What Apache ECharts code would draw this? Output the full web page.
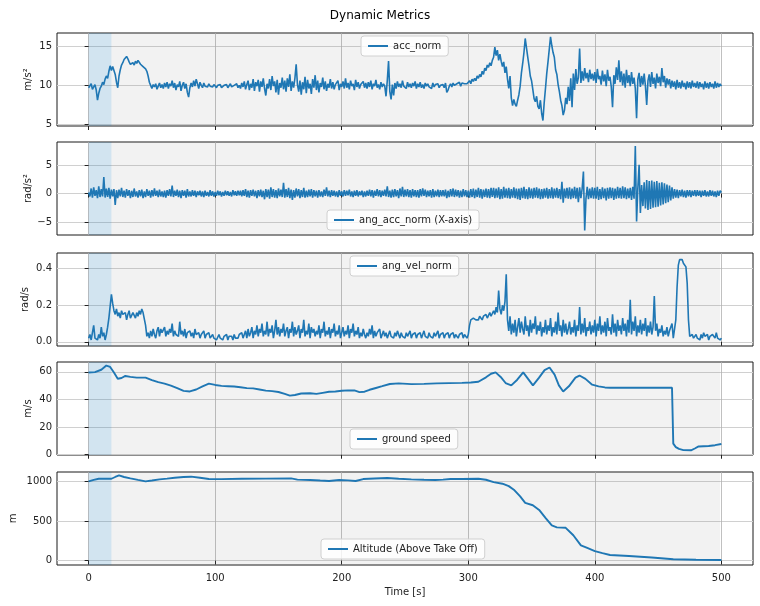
<!DOCTYPE html>
<html><head><meta charset="utf-8">
<script src="https://cdn.jsdelivr.net/npm/echarts@6/dist/echarts.min.js"></script>
<style>html,body{margin:0;padding:0;background:#fff}#c{width:760px;height:606px}</style>
</head><body><div id="c"></div>
<script>
// ---- data ----
const DT = 1; // sampling step (s) of the noisy series
const accNorm = [
9.7,9.9,10.2,9.5,9.8,10.1,9.4,8.1,9.0,9.6,9.9,10.4,10.1,10.8,11.2,10.9,11.8,12.5,11.9,12.4,
12.2,11.4,10.4,9.7,11.2,12.0,12.6,12.9,13.3,13.1,13.7,13.4,13.0,12.7,12.5,12.9,12.6,13.1,12.8,13.2,
13.0,12.7,12.9,12.4,12.6,12.1,11.8,11.2,10.4,10.0,9.6,10.1,9.8,10.2,9.5,9.9,10.3,9.7,10.1,9.6,
10.3,9.8,10.4,9.6,10.2,9.9,10.6,9.7,10.3,9.4,10.1,9.8,10.5,9.3,10.0,10.4,9.6,10.2,9.1,8.5,
9.7,10.3,9.8,10.6,9.9,10.8,10.2,9.6,10.4,10.0,9.7,10.3,9.9,10.1,9.8,10.2,9.9,10.0,9.8,10.1,
9.9,9.7,10.0,9.8,10.1,9.7,9.9,10.0,9.8,10.1,9.7,9.9,10.2,9.8,9.6,10.0,9.9,10.2,9.7,10.0,
9.6,10.3,9.8,10.5,9.5,10.1,10.6,9.4,10.2,9.7,10.8,9.3,10.4,9.9,10.7,9.2,10.5,9.8,10.9,9.6,
8.7,10.2,9.6,10.8,9.4,11.2,9.9,10.5,9.1,10.7,8.8,10.3,9.7,11.0,9.5,10.6,9.2,10.9,9.8,11.4,
9.3,10.5,9.7,10.9,12.7,10.1,9.2,10.6,8.8,10.4,9.5,11.1,9.0,10.7,9.6,10.2,8.9,10.8,9.7,11.3,
9.4,10.6,9.1,10.3,9.8,11.0,9.5,10.5,9.3,10.2,9.7,10.8,9.6,10.4,9.5,10.1,9.9,10.6,9.4,10.2,
9.8,10.5,9.6,10.9,9.7,10.3,9.5,10.6,9.9,10.2,9.4,10.7,9.8,10.4,9.6,10.1,9.9,10.5,9.7,10.3,
9.6,10.4,9.8,10.6,9.5,10.2,9.9,10.7,9.7,10.1,9.5,10.4,9.8,10.2,9.9,8.6,10.6,13.1,9.2,8.2,
10.1,8.7,10.3,9.6,10.5,9.8,10.2,9.7,10.6,9.9,10.1,9.6,10.4,9.8,10.2,9.7,10.3,9.9,10.5,9.6,
10.2,9.8,10.4,9.7,10.1,9.6,10.3,9.9,10.2,9.8,10.0,9.6,10.3,9.8,10.1,9.9,10.2,9.7,10.0,9.8,
10.1,9.7,10.3,9.1,9.4,9.9,10.2,9.8,10.3,10.0,9.9,10.2,10.1,10.4,9.9,10.3,10.1,10.2,10.4,10.2,
10.3,10.6,10.2,10.8,10.5,10.9,10.6,11.2,10.9,11.4,11.1,11.8,11.4,12.2,11.9,12.6,12.3,12.9,12.5,13.2,
13.6,14.9,13.8,14.5,13.2,14.0,13.1,12.4,13.0,11.6,12.4,10.8,9.6,11.2,8.4,7.4,8.2,7.6,7.3,8.1,
8.8,9.9,11.6,12.8,14.2,16.0,14.8,13.6,12.5,11.2,10.6,9.5,8.3,7.9,8.6,7.3,7.0,8.1,6.4,5.5,
7.8,9.6,11.5,13.0,14.6,16.2,15.1,14.2,13.6,12.0,11.4,10.1,9.2,8.1,7.4,6.2,6.8,8.4,7.6,9.8,
8.0,10.9,7.2,11.5,9.4,12.1,10.2,11.0,14.7,10.3,11.8,10.6,12.2,10.9,11.6,10.4,12.0,10.8,11.5,10.6,
11.7,10.3,12.1,10.8,11.2,10.1,11.9,10.5,11.4,9.9,12.0,10.6,11.1,9.8,7.2,11.3,10.2,12.3,10.7,13.2,
10.4,11.8,10.0,11.5,9.7,12.0,10.3,11.3,9.9,11.7,10.2,11.0,9.6,5.8,10.8,11.6,9.8,11.2,10.1,11.5,
9.9,7.5,10.6,11.4,9.8,11.7,10.2,11.0,9.6,11.5,10.3,11.1,9.9,12.2,10.4,11.2,9.7,10.9,10.1,10.8,
9.6,10.6,9.8,10.5,9.5,10.7,9.7,10.4,9.6,10.6,9.8,10.3,9.5,10.5,9.7,10.4,9.6,10.6,9.8,10.3,
9.7,10.5,9.6,10.4,9.8,10.2,9.5,10.5,9.7,10.3,9.6,10.4,9.8,10.2,9.6,10.5,9.7,10.3,9.8,10.2,
9.9];
const angAccNorm = [
0.2,-0.5,0.9,-0.7,1.1,-0.4,0.6,-0.8,1.3,-0.6,0.8,-0.5,2.9,-0.7,0.9,-0.6,1.0,-0.9,0.7,-0.5,
0.8,-2.0,0.6,-0.8,0.7,-0.5,1.0,-0.6,0.5,-0.7,0.8,-0.4,0.6,-0.8,0.5,-0.6,0.9,-0.5,0.4,-0.7,
0.6,-0.5,0.7,-0.8,0.4,-0.6,0.8,-0.4,0.5,-0.7,0.6,-0.5,0.9,-0.4,0.5,-0.6,0.7,-0.5,0.4,-0.6,
0.5,-0.7,0.6,-0.4,0.8,-0.5,1.4,-0.6,0.5,-0.4,0.7,-0.6,0.5,-0.8,0.6,-0.4,0.5,-0.7,0.8,-0.5,
0.4,-0.5,0.6,-0.4,0.5,-0.6,0.4,-0.3,0.5,-0.5,0.4,-0.6,0.5,-0.4,0.3,-0.5,0.6,-0.4,0.4,-0.5,
0.3,-0.4,0.5,-0.3,0.4,-0.5,0.3,-0.4,0.5,-0.3,0.4,-0.4,0.3,-0.5,0.6,-0.3,0.4,-0.4,0.5,-0.3,
0.5,-0.5,0.6,-0.4,0.8,-0.6,0.5,-0.7,0.6,-0.4,0.7,-0.5,0.5,-0.8,0.6,-0.5,0.7,-0.6,0.5,-1.0,
0.8,-0.6,0.7,-0.9,1.1,-0.6,0.8,-0.7,0.6,-0.8,0.9,-0.5,0.7,-0.6,1.9,-0.7,0.8,-0.6,1.0,-0.8,
0.7,-1.1,0.6,-0.7,0.9,-0.5,0.8,-0.8,0.6,-0.6,1.0,-0.7,0.5,-0.6,0.7,-0.5,0.8,-0.7,0.6,-0.5,
0.5,-0.7,0.6,-0.5,0.4,-0.6,0.7,-0.4,1.1,-0.5,0.5,-0.6,0.6,-0.4,0.5,-0.5,0.4,-0.6,0.6,-0.4,
0.4,-0.5,0.6,-0.4,0.5,-0.3,0.7,-0.5,0.4,-0.6,0.5,-0.4,0.6,-0.5,0.4,-0.3,0.5,-0.6,0.4,-0.5,
0.5,-0.4,0.7,-0.5,0.6,-0.7,0.5,-0.4,0.8,-0.5,0.6,-0.6,0.5,-0.4,0.7,-0.5,1.3,-0.6,0.5,-0.7,
0.7,-0.6,0.8,-0.5,0.6,-0.8,0.9,-0.5,1.2,-0.6,0.7,-0.5,0.8,-0.6,0.6,-0.7,0.8,-0.5,0.6,-0.6,
0.6,-0.7,0.8,-0.5,0.9,-0.4,0.7,-0.6,0.5,-0.5,0.6,-0.7,0.8,-0.6,0.5,-0.5,0.7,-0.6,0.6,-0.5,
0.6,-0.5,0.7,-0.8,0.5,-0.6,0.8,-0.5,0.9,-0.6,0.7,-0.5,0.6,-0.7,0.5,-0.6,0.8,-0.5,0.6,-0.6,
0.5,-0.7,0.8,-0.6,0.9,-0.8,0.7,-0.6,1.0,-0.7,0.8,-0.9,0.7,-0.6,0.9,-0.7,0.8,-0.8,1.0,-0.6,
1.0,-0.8,0.9,-0.7,1.1,-1.0,0.8,-0.9,1.2,-0.7,0.9,-0.8,1.0,-0.9,0.8,-0.7,1.1,-0.8,0.9,-1.0,
0.9,-1.1,1.0,-0.8,1.2,-0.9,0.8,-1.0,1.1,-0.8,0.9,-0.9,1.0,-0.7,1.1,-0.8,0.9,-1.0,0.8,-0.9,
0.9,-0.7,1.0,-0.9,0.8,-0.8,1.1,-0.9,0.9,-0.7,1.0,-0.8,0.8,-1.0,2.1,-1.6,0.9,-0.8,1.0,-0.9,
1.1,-1.0,0.9,-0.8,1.2,-0.9,1.0,-1.5,1.1,-0.8,0.9,3.9,-6.5,-0.9,1.2,-1.0,0.9,-0.8,1.1,-0.9,
1.0,-0.9,1.2,-1.1,0.8,-1.0,1.1,-0.8,0.9,-1.2,1.0,-0.9,1.1,-0.8,1.0,-1.1,0.9,-0.9,1.2,-0.8,
1.0,-0.9,1.3,-0.8,1.1,-1.0,0.9,-0.8,1.0,-1.1,1.2,-0.9,8.4,-4.9,1.0,5.1,-3.4,1.5,-2.2,2.0,
-2.6,2.4,-2.9,2.2,-2.7,2.3,-2.5,2.1,-2.4,2.2,-2.3,1.9,-2.1,2.0,-1.9,1.8,-1.7,1.6,-1.5,1.4,
-1.2,1.1,-0.9,0.8,-0.7,0.7,-0.8,0.6,-0.5,0.7,-0.6,0.5,-0.7,0.6,-0.5,0.6,-0.6,0.5,-0.4,0.6,
-0.5,0.6,-0.4,0.5,-0.6,0.5,-0.4,0.6,-0.5,0.4,-0.5,0.6,-0.4,0.5,-0.5,0.4,-0.6,0.5,-0.4,0.5,
0.2];
const angVelNorm = [
0.02,0.04,0.01,0.05,0.09,0.02,0.03,0.01,0.04,0.02,0.08,0.03,0.05,0.01,0.04,0.08,0.13,0.14,0.26,0.21,
0.17,0.15,0.18,0.14,0.16,0.13,0.17,0.15,0.14,0.16,0.12,0.15,0.17,0.13,0.14,0.16,0.15,0.13,0.16,0.14,
0.17,0.15,0.18,0.16,0.17,0.09,0.03,0.05,0.02,0.06,0.03,0.07,0.04,0.02,0.06,0.08,0.03,0.07,0.05,0.04,
0.08,0.03,0.06,0.04,0.07,0.05,0.10,0.03,0.06,0.04,0.05,0.03,0.11,0.04,0.06,0.03,0.07,0.02,0.05,0.04,
0.06,0.03,0.05,0.02,0.07,0.04,0.03,0.05,0.02,0.04,0.03,0.06,0.02,0.04,0.03,0.05,0.02,0.03,0.04,0.02,
0.03,0.01,0.02,0.04,0.02,0.03,0.01,0.03,0.02,0.04,0.01,0.03,0.02,0.03,0.01,0.04,0.02,0.03,0.02,0.04,
0.03,0.05,0.02,0.04,0.06,0.02,0.07,0.03,0.05,0.08,0.02,0.06,0.04,0.09,0.03,0.07,0.05,0.10,0.03,0.06,
0.04,0.11,0.03,0.07,0.05,0.09,0.02,0.06,0.12,0.04,0.08,0.03,0.07,0.05,0.10,0.03,0.06,0.08,0.02,0.07,
0.05,0.11,0.03,0.08,0.04,0.06,0.09,0.02,0.07,0.05,0.12,0.03,0.06,0.04,0.10,0.02,0.08,0.05,0.07,0.03,
0.06,0.04,0.09,0.02,0.07,0.05,0.11,0.03,0.06,0.04,0.08,0.02,0.07,0.05,0.10,0.03,0.06,0.04,0.09,0.02,
0.05,0.08,0.03,0.06,0.04,0.09,0.02,0.07,0.05,0.10,0.03,0.06,0.04,0.08,0.02,0.05,0.03,0.07,0.04,0.02,
0.05,0.03,0.07,0.04,0.09,0.02,0.06,0.03,0.05,0.04,0.07,0.02,0.04,0.06,0.03,0.05,0.02,0.04,0.06,0.03,
0.04,0.02,0.05,0.03,0.06,0.04,0.02,0.05,0.03,0.04,0.02,0.05,0.03,0.04,0.06,0.02,0.04,0.03,0.05,0.02,
0.04,0.03,0.05,0.02,0.04,0.06,0.03,0.04,0.02,0.05,0.03,0.04,0.02,0.05,0.03,0.04,0.06,0.02,0.04,0.03,
0.05,0.02,0.04,0.03,0.05,0.02,0.04,0.03,0.05,0.02,0.04,0.03,0.02,0.04,0.03,0.05,0.02,0.04,0.03,0.02,
0.04,0.09,0.12,0.11,0.13,0.12,0.12,0.13,0.12,0.14,0.13,0.12,0.14,0.13,0.15,0.13,0.14,0.16,0.14,0.15,
0.17,0.15,0.19,0.16,0.28,0.18,0.15,0.20,0.17,0.22,0.37,0.12,0.06,0.14,0.04,0.10,0.05,0.12,0.03,0.08,
0.13,0.05,0.11,0.07,0.04,0.14,0.06,0.09,0.03,0.12,0.05,0.10,0.07,0.14,0.04,0.09,0.06,0.11,0.03,0.08,
0.05,0.12,0.04,0.09,0.06,0.13,0.03,0.08,0.05,0.11,0.04,0.16,0.06,0.09,0.03,0.12,0.05,0.10,0.04,0.07,
0.11,0.04,0.08,0.05,0.12,0.03,0.09,0.06,0.19,0.04,0.10,0.05,0.13,0.03,0.08,0.06,0.11,0.04,0.09,0.05,
0.12,0.03,0.10,0.06,0.14,0.04,0.09,0.05,0.11,0.03,0.13,0.06,0.08,0.04,0.15,0.05,0.10,0.03,0.12,0.06,
0.09,0.04,0.13,0.06,0.10,0.03,0.12,0.05,0.23,0.04,0.11,0.06,0.14,0.03,0.09,0.05,0.12,0.04,0.10,0.06,
0.13,0.03,0.09,0.05,0.11,0.04,0.08,0.25,0.06,0.10,0.03,0.07,0.05,0.09,0.03,0.06,0.04,0.08,0.03,0.06,
0.05,0.10,0.02,0.01,0.12,0.30,0.42,0.45,0.46,0.45,0.43,0.44,0.41,0.32,0.12,0.03,0.02,0.04,0.02,0.03,
0.04,0.02,0.03,0.01,0.04,0.02,0.05,0.03,0.02,0.04,0.01,0.03,0.02,0.04,0.03,0.02,0.05,0.02,0.03,0.01,
0.02];
const gsT = [0,5,10,14,17,20,23,26,29,33,38,45,50,55,60,65,70,75,80,85,90,95,100,105,110,115,120,125,130,135,140,145,150,155,159,163,168,175,180,185,190,195,200,205,210,214,218,222,227,232,238,245,255,265,275,285,295,302,308,314,318,321.6,325.6,329.5,334,338.7,343.4,347.4,351.1,355.8,360.3,364.2,368.2,371.6,375,379.5,384.7,387.9,392.6,397.9,403,408,412,461,462,464,466.5,470,476,479,482,490,495,500];
const gsV = [59.5,59.8,61.5,64.5,63.5,59.5,55,55.5,57,56.3,55.8,55.8,54,52.5,51.5,50,48.2,46.2,45.8,47.2,49.5,51.5,50.5,49.8,49.6,49.4,48.8,48.2,48,47.2,46.4,46,45.4,44,42.8,43.2,44.3,44.5,44,44.8,45.6,45.8,46.3,46.6,46.5,45.3,45.6,47,48.3,49.6,51.2,51.6,51.1,51.3,51.6,51.8,52,52.3,52.8,56,58.6,59.6,56.3,51.9,50.2,54.3,59.6,54.7,50.2,55.6,61.2,63.1,58,50.2,45.8,49.5,55.8,57.3,54.9,50.7,49.5,48.7,48.5,48.5,8,5.5,4.2,3.3,3.2,4.5,6,6.3,6.9,7.8];
const altT = [0,4,8,18,21,24,28,33,39,45,50,56,62,68,75,81,88,95,105,121,140,160,165,175,183,190,198,205,211,217,226,236,245,255,265,274,280,286,295,308,314,320,327,332,336,341,345,351,356,361,366,370,377,383,389,394,400,406,412,427,445,462,480,500];
const altV = [1000,1018,1033,1033,1055,1075,1055,1038,1018,1000,1010,1025,1035,1046,1055,1059,1045,1030,1028,1033,1035,1038,1022,1018,1010,1004,1017,1012,1004,1029,1036,1042,1032,1025,1020,1017,1022,1029,1030,1033,1020,990,970,940,895,810,728,699,640,540,444,420,414,320,192,160,121,95,71,59,40,17,12,8];
const seriesNames = ['acc_norm','ang_acc_norm (X-axis)','ang_vel_norm','ground speed','Altitude (Above Take Off)'];
const yNames = ['m/s²','rad/s²','rad/s','m/s','m'];
const yTicks = [[5,10,15],[-5,0,5],[0,0.2,0.4],[0,20,40,60],[0,500,1000]];
const yRanges = [[4.8,16.7],[-7.3,9.1],[-0.023,0.486],[-0.2,67.1],[-55,1118]];
const xTicks = [0,100,200,300,400,500];
const spanBlue = [0,18];
const spanGray = [18,499];
const titleText = 'Dynamic Metrics';
const xName = 'Time [s]';

// ---- chart ----
const FONT = 'DejaVu Sans';
const tops = [33,142,253,362,472];
const H = 93;
const nameGaps = [24,24,27,24,39];
const legendPos = [[361,36],[327,210],[350,256],[350,429],[321,539]];
const lineW = [1.6,1.6,1.6,1.9,1.9];
const series = [
  accNorm.map((v,i)=>[i*DT,v]),
  angAccNorm.map((v,i)=>[i*DT,v]),
  angVelNorm.map((v,i)=>[i*DT,v]),
  gsT.map((t,i)=>[t,gsV[i]]),
  altT.map((t,i)=>[t,altV[i]])
];
const fmtMinus = v => String(v).replace('-', '\u2212');
const grids=[],xAxes=[],yAxes=[],ser=[],legends=[];
for(let i=0;i<5;i++){
  grids.push({left:57,right:7,top:tops[i],height:H,show:true,borderColor:'#1a1a1a',borderWidth:1,
    backgroundColor:'transparent',containLabel:false,outerBoundsMode:'none'});
  xAxes.push({type:'value',gridIndex:i,min:-25,max:525,
    axisLine:{show:false},
    axisTick:{show:true,length:4,customValues:xTicks,lineStyle:{color:'#222'}},
    axisLabel:{show:i===4,customValues:xTicks,fontSize:10,fontFamily:FONT,color:'#222',margin:8},
    splitLine:{show:true,lineStyle:{color:'#b0b0b0',width:0.8}},
    name:i===4?xName:'',nameLocation:'middle',nameGap:22,nameMoveOverlap:false,
    nameTextStyle:{fontSize:10,fontFamily:FONT,color:'#222'}
  });
  yAxes.push({type:'value',gridIndex:i,min:yRanges[i][0],max:yRanges[i][1],
    axisLine:{show:false},
    axisTick:{show:true,length:4,customValues:yTicks[i],lineStyle:{color:'#222'}},
    axisLabel:{customValues:yTicks[i],fontSize:10,fontFamily:FONT,color:'#222',margin:5,
      formatter: i===2 ? (v=>Number(v).toFixed(1)) : fmtMinus},
    splitLine:{show:true,lineStyle:{color:'#d0d0d0',width:1.2}},
    name:yNames[i],nameLocation:'middle',nameGap:nameGaps[i],nameRotate:90,nameMoveOverlap:false,
    nameTextStyle:{fontSize:10,fontFamily:FONT,color:'#222'}
  });
  ser.push({type:'line',name:seriesNames[i],xAxisIndex:i,yAxisIndex:i,data:series[i],
    showSymbol:false,symbol:'none',lineStyle:{color:'#1f77b4',width:lineW[i]},itemStyle:{color:'#1f77b4'},
    emphasis:{disabled:true},silent:true,
    markArea:{silent:true,data:[
      [{xAxis:spanBlue[0],itemStyle:{color:'rgba(31,119,180,0.2)'}},{xAxis:spanBlue[1]}],
      [{xAxis:spanGray[0],itemStyle:{color:'rgba(128,128,128,0.1)'}},{xAxis:spanGray[1]}]
    ]}
  });
  legends.push({data:[seriesNames[i]],left:legendPos[i][0],top:legendPos[i][1],icon:'rect',itemWidth:20,itemHeight:2,
    itemGap:0,padding:[5,7],backgroundColor:'rgba(255,255,255,0.8)',borderColor:'#d0d0d0',borderWidth:1,borderRadius:3,
    selectedMode:false,textStyle:{fontSize:10,fontFamily:FONT,color:'#222'}});
}
const chart = echarts.init(document.getElementById('c'),null,{renderer:'canvas'});
chart.setOption({
  animation:false,backgroundColor:'#fff',
  title:{text:titleText,left:'center',top:5,textStyle:{fontSize:12,fontWeight:'normal',fontFamily:FONT,color:'#000'}},
  grid:grids,xAxis:xAxes,yAxis:yAxes,series:ser,legend:legends
});
</script></body></html>
